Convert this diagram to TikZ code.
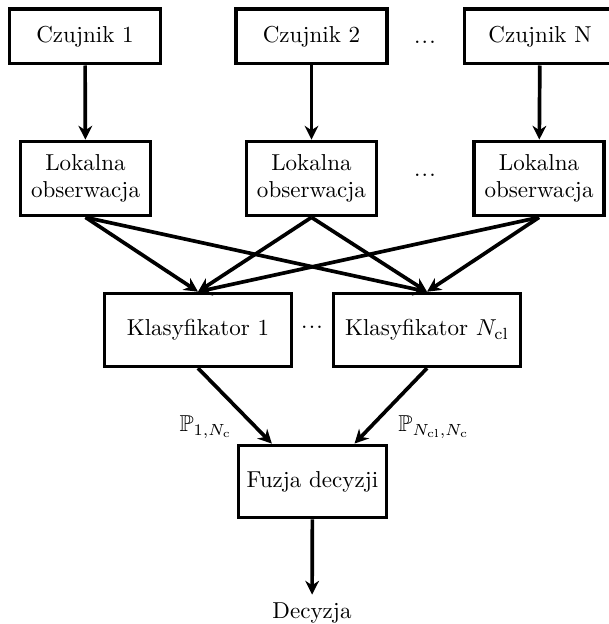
\documentclass[tikz,border=0pt]{standalone}
\usepackage{amsmath}
\usepackage{amssymb}
\usetikzlibrary{arrows.meta}
\newcommand{\kropki}{.\kern0.5pt.\kern0.5pt.}

\begin{document}
\begin{tikzpicture}[x=1cm,y=1cm,>={Stealth[length=6pt,width=6pt]},
  czujnik/.style={draw,line width=1.6pt,minimum width=2.30cm,minimum height=0.83cm,inner sep=2pt},
  obserw/.style={draw,line width=1.6pt,minimum width=1.98cm,minimum height=1.13cm,inner sep=2pt,align=center},
  klas/.style={draw,line width=1.6pt,minimum width=2.85cm,minimum height=1.11cm,inner sep=2pt},
  strz/.style={->,line width=1.6pt}]
\useasboundingbox (0,0) rectangle (9.287,9.516);
% czujniki
\node[czujnik] (c1) at (1.296,8.960) {Czujnik 1};
\node[czujnik] (c2) at (4.750,8.960) {Czujnik 2};
\node (d1) at (6.480,8.876) {\kropki};
\node[czujnik] (cn) at (8.235,8.960) {Czujnik N};
% lokalne obserwacje
\node[obserw] (l1) at (1.304,6.794) {Lokalna\\obserwacja};
\node[obserw] (l2) at (4.750,6.794) {Lokalna\\obserwacja};
\node (d2) at (6.480,6.847) {\kropki};
\node[obserw] (l3) at (8.220,6.794) {Lokalna\\obserwacja};
% klasyfikatory
\node[klas] (k1) at (3.020,4.484) {Klasyfikator 1};
\node (d3) at (4.758,4.530) {\kropki};
\node[klas] (kn) at (6.512,4.484) {Klasyfikator $N_\mathrm{cl}$};
% fuzja
\node[draw,line width=1.6pt,minimum width=2.26cm,minimum height=1.10cm,inner sep=2pt] (fz) at (4.766,2.173) {Fuzja decyzji};
\node (dec) at (4.758,0.168) {Decyzja};
\draw[strz] (c1) -- (l1);
\draw[strz] (c2) -- (l2);
\draw[strz] (cn) -- (l3);
\draw[strz] (l1.south) -- (k1.north);
\draw[strz] (l1.south) -- (kn.north);
\draw[strz] (l2.south) -- (k1.north);
\draw[strz] (l2.south) -- (kn.north);
\draw[strz] (l3.south) -- (k1.north);
\draw[strz] (l3.south) -- (kn.north);
\draw[strz] (k1.south) -- node[pos=0.78,left=6pt] {$\mathbb{P}_{1,N_\mathrm{c}}$} ([xshift=-0.62cm]fz.north);
\draw[strz] (kn.south) -- node[pos=0.78,right=8pt] {$\mathbb{P}_{N_\mathrm{cl},N_\mathrm{c}}$} ([xshift=0.64cm]fz.north);
\draw[strz] (fz) -- (dec);
\end{tikzpicture}
\end{document}
